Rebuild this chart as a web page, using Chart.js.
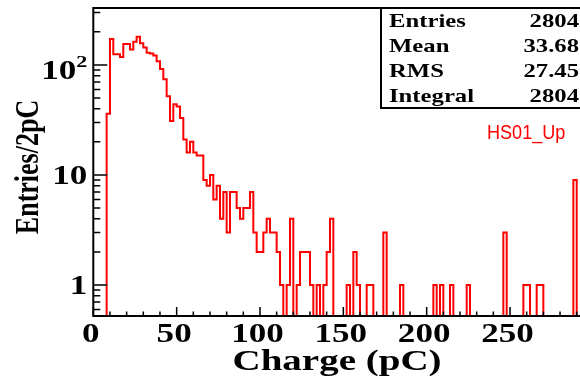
<!DOCTYPE html>
<html lang="en">
<head>
    <meta charset="UTF-8">
    <title>HS01_Up charge spectrum</title>
    <script src="https://cdn.jsdelivr.net/npm/chart.js"></script>
    <style>
        html, body { margin: 0; padding: 0; background: #fff; overflow: hidden; }
        canvas { display: block; }
    </style>
</head>
<body>
    <canvas id="hist" width="600" height="379"></canvas>

    <script>
        // histogram: 2 pC bins starting at 0 pC
        const binWidth = 2;
        const xRange = [0, 296];
        const counts = [
              0,   0,   0,   0,  36, 172, 125, 125, 118, 155,   // 0 - 20
            155, 138, 163, 181, 158, 144, 129, 127, 122, 108,   // 20 - 40
             92,  74,  52,  31,  44,  42,  33,  21,  16,  20,   // 40 - 60
             16,  15,  15,   9,   8,  10,   6,   8,   4,   7,   // 60 - 80
              3,   7,   7,   5,   4,   5,   5,   7,   3,   2,   // 80 - 100
              2,   3,   4,   3,   3,   2,   1,   0,   1,   4,   // 100 - 120
              0,   1,   2,   2,   2,   1,   0,   1,   0,   1,   // 120 - 140
              2,   4,   0,   0,   0,   0,   1,   0,   2,   1,   // 140 - 160
              0,   0,   1,   1,   0,   0,   0,   3,   0,   0,   // 160 - 180
              0,   0,   1,   0,   0,   0,   0,   0,   0,   0,   // 180 - 200
              0,   0,   1,   0,   1,   0,   0,   1,   0,   0,   // 200 - 220
              0,   0,   1,   0,   0,   0,   0,   0,   0,   0,   // 220 - 240
              0,   0,   0,   3,   0,   0,   0,   0,   0,   1,   // 240 - 260
              1,   0,   0,   1,   1,   0,   0,   0,   0,   0,   // 260 - 280
              0,   0,   0,   0,   9,   0,   0,   0              // 280 - 296
        ];

        const xTickValues = [0, 50, 100, 150, 200, 250];
        const xMinorStep = 10;
        const yRange = [0.5226, 329.6];
        const yTickValues = [1, 10, 100];
        const yTickLabels = [['1', ''], ['10', ''], ['10', '2']];

        const statNames = ['Entries', 'Mean', 'RMS', 'Integral'];
        const statValues = ['2804', '33.68', '27.45', '2804'];
        const histName = 'HS01_Up';

        const serif = '"Liberation Serif", "Times New Roman", serif';
        const stretch = 1.3; // ROOT picture is stretched sideways

        // empty bins go below the frame on a log axis, like ROOT does
        const zeroFloor = 1e-3;
        const points = counts.map((c, i) => ({
            x: xRange[0] + (i + 0.5) * binWidth,
            y: c > 0 ? c : zeroFloor
        }));

        function drawText(ctx, text, x, y, opt) {
            ctx.save();
            ctx.translate(x, y);
            ctx.scale(opt.sx || 1, 1);
            if (opt.rotate) ctx.rotate(opt.rotate);
            ctx.font = opt.font;
            ctx.fillStyle = opt.color || '#000';
            ctx.textAlign = opt.align || 'left';
            ctx.textBaseline = opt.baseline || 'alphabetic';
            ctx.fillText(text, 0, 0);
            ctx.restore();
        }

        // frame, inward ticks, labels and stat box in ROOT style
        const rootStyle = {
            id: 'rootStyle',
            afterDatasetsDraw(chart) {
                const { ctx, chartArea: a } = chart;
                const xs = chart.scales.x, ys = chart.scales.y;
                ctx.save();

                ctx.strokeStyle = '#000';
                ctx.lineWidth = 2;
                ctx.strokeRect(a.left, a.top, a.right - a.left, a.bottom - a.top);

                ctx.lineWidth = 1.5;
                ctx.beginPath();
                for (let v = xRange[0]; v <= xRange[1]; v += xMinorStep) {
                    const px = xs.getPixelForValue(v);
                    const len = v % 50 === 0 ? 9 : 4.5;
                    ctx.moveTo(px, a.bottom);
                    ctx.lineTo(px, a.bottom - len);
                }
                for (let k = -1; k <= 2; k++) {
                    for (let d = 1; d <= 9; d++) {
                        const v = d * Math.pow(10, k);
                        if (v < yRange[0] || v > yRange[1]) continue;
                        const py = ys.getPixelForValue(v);
                        ctx.moveTo(a.left, py);
                        ctx.lineTo(a.left + (d === 1 ? 14 : 7), py);
                    }
                }
                ctx.stroke();

                const tickFont = 'bold 27px ' + serif;
                xTickValues.forEach(v => {
                    drawText(ctx, String(v), xs.getPixelForValue(v) - 2.5, 335,
                        { font: tickFont, sx: stretch, align: 'center', baseline: 'middle' });
                });

                yTickValues.forEach((v, i) => {
                    const py = ys.getPixelForValue(v) + 2;
                    const [base, sup] = yTickLabels[i];
                    let right = a.left - 6;
                    if (sup) {
                        ctx.font = 'bold 17px ' + serif;
                        const w = ctx.measureText(sup).width * stretch;
                        drawText(ctx, sup, right, py - 4,
                            { font: 'bold 17px ' + serif, sx: stretch, align: 'right', baseline: 'middle' });
                        right -= w;
                        drawText(ctx, base, right, py + 5,
                            { font: tickFont, sx: stretch, align: 'right', baseline: 'middle' });
                    } else {
                        drawText(ctx, base, right, py,
                            { font: tickFont, sx: stretch, align: 'right', baseline: 'middle' });
                    }
                });

                drawText(ctx, 'Charge (pC)', 337, 370,
                    { font: 'bold 30px ' + serif, sx: stretch, align: 'center' });
                drawText(ctx, 'Entries/2pC', 38, 167,
                    { font: 'bold 26px ' + serif, sx: stretch, rotate: -Math.PI / 2, align: 'center' });

                // stat box
                const box = { left: 381, top: a.top, right: a.right, bottom: 108 };
                ctx.fillStyle = '#fff';
                ctx.fillRect(box.left, box.top, box.right - box.left, box.bottom - box.top);
                ctx.lineWidth = 2;
                ctx.strokeRect(box.left, box.top, box.right - box.left, box.bottom - box.top);
                const rowH = (box.bottom - box.top) / statNames.length;
                statNames.forEach((name, i) => {
                    const cy = box.top + 2 + rowH * (i + 0.5);
                    drawText(ctx, name, 389, cy, { font: 'bold 19px ' + serif, sx: stretch, baseline: 'middle' });
                    drawText(ctx, statValues[i], 579, cy,
                        { font: 'bold 19px ' + serif, sx: stretch, align: 'right', baseline: 'middle' });
                });

                drawText(ctx, histName, 487, 139,
                    { font: '21px "Liberation Sans", Arial, sans-serif', sx: 0.86, color: '#ff0000' });

                ctx.restore();
            }
        };

        const chart = new Chart(document.getElementById('hist'), {
            type: 'line',
            data: {
                datasets: [{
                    label: histName,
                    data: points,
                    stepped: 'middle',
                    borderColor: '#ff0000',
                    borderWidth: 2,
                    pointRadius: 0,
                    fill: false
                }]
            },
            options: {
                responsive: false,
                animation: false,
                layout: { padding: { left: 93.3, top: 8, right: 600 - 586.7, bottom: 63 } },
                scales: {
                    x: { type: 'linear', min: xRange[0], max: xRange[1], display: false },
                    y: { type: 'logarithmic', min: yRange[0], max: yRange[1], display: false }
                },
                plugins: { legend: { display: false }, tooltip: { enabled: false } }
            },
            plugins: [rootStyle]
        });
    </script>
</body>
</html>
